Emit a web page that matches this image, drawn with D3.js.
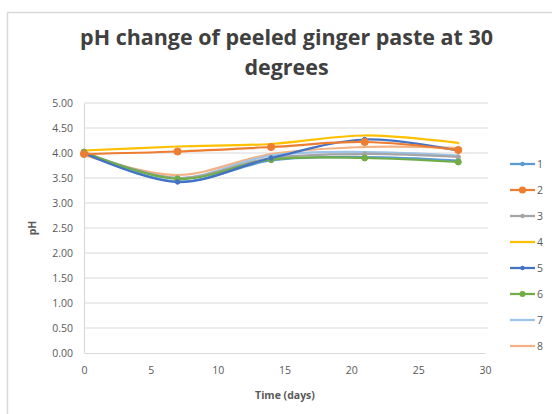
<!DOCTYPE html>
<html><head><meta charset="utf-8">
<script src="https://cdn.jsdelivr.net/npm/d3@7"></script>
<style>body{margin:0;background:#fff}svg{display:block}</style>
</head><body>
<svg id="c" width="552" height="414"></svg>
<script>
const days = [0, 7, 14, 21, 28];
const seriesNames = ["1","2","3","4","5","6","7","8"];
const s1 = [4.00, 3.43, 3.85, 3.92, 3.85];
const s2 = [3.98, 4.03, 4.12, 4.22, 4.06];
const s3 = [4.02, 3.50, 3.90, 3.98, 3.92];
const s4 = [4.05, 4.13, 4.18, 4.35, 4.20];
const s5 = [4.00, 3.42, 3.90, 4.27, 4.05];
const s6 = [4.02, 3.48, 3.87, 3.90, 3.82];
const s7 = [4.00, 3.50, 3.95, 4.02, 3.95];
const s8 = [3.96, 3.56, 3.98, 4.12, 4.10];
const seriesValues = [s1,s2,s3,s4,s5,s6,s7,s8];
const xTicks = [0,5,10,15,20,25,30];
const yTicks = [0,0.5,1,1.5,2,2.5,3,3.5,4,4.5,5];
const titleLines = ["pH change of peeled ginger paste at 30","degrees"];
const xTitle = "Time (days)";
const yTitle = "pH";

const colors = ["#5B9BD5","#ED7D31","#A5A5A5","#FFC000","#4472C4","#70AD47","#9DC3E6","#F4B183"];
const markerR = [2.2,3.6,2.2,0,2.2,3,0,0];

const svg = d3.select("#c");
svg.append("rect").attr("x",7.5).attr("y",12.5).attr("width",600).attr("height",500)
  .attr("fill","#fff").attr("stroke","#D9D9D9").attr("stroke-width",1.5);

const x = d3.scaleLinear().domain([0,30]).range([84,485]);
const y = d3.scaleLinear().domain([0,5]).range([353,103]);

// gridlines
svg.append("g").selectAll("line").data(yTicks.slice(1)).join("line")
  .attr("x1",x(0)).attr("x2",x(30)+3).attr("y1",d=>y(d)).attr("y2",d=>y(d))
  .attr("stroke","#D9D9D9").attr("stroke-width",1.2);

// axes
const yAxis = d3.axisLeft(y).tickValues(yTicks).tickFormat(d3.format(".2f")).tickSize(0).tickPadding(11);
const gy = svg.append("g").attr("transform",`translate(${x(0)},0)`).call(yAxis);
gy.select(".domain").attr("stroke","#D9D9D9").attr("stroke-width",1.2);
gy.selectAll("text").attr("fill","#595959").attr("font-family","Open Sans, sans-serif").attr("font-size",10.5);

const xAxis = d3.axisBottom(x).tickValues(xTicks).tickSize(0).tickPadding(14);
const gx = svg.append("g").attr("transform",`translate(0,${y(0)})`).call(xAxis);
gx.select(".domain").attr("stroke","#D9D9D9").attr("stroke-width",1.2);
gx.selectAll("text").attr("fill","#595959").attr("font-family","Open Sans, sans-serif").attr("font-size",10.5);

// lines
const line = d3.line().x((d,i)=>x(days[i])).y(d=>y(d)).curve(d3.curveCatmullRom.alpha(0.5));
const order = [7,6,0,2,5,4,1,3];
order.forEach(k=>{
  svg.append("path").datum(seriesValues[k]).attr("d",line)
    .attr("fill","none").attr("stroke",colors[k]).attr("stroke-width",2.25).attr("stroke-linecap","round");
});
order.forEach(k=>{
  if(markerR[k]>0){
    svg.append("g").selectAll("circle").data(seriesValues[k]).join("circle")
      .attr("cx",(d,i)=>x(days[i])).attr("cy",d=>y(d)).attr("r",markerR[k])
      .attr("fill",colors[k]).attr("stroke",colors[k]);
  }
});

// title
const title = svg.append("text").attr("font-family","Open Sans, sans-serif").attr("font-weight","bold")
  .attr("fill","#404040").attr("text-anchor","middle");
const t1 = title.append("tspan").attr("x",286.5).attr("y",45).text(titleLines[0]);
title.append("tspan").attr("x",286.5).attr("y",75).text(titleLines[1]);
title.attr("font-size",20);
const w = t1.node().getComputedTextLength();
title.attr("font-size", 20*413/w);

// axis titles
svg.append("text").attr("x",285).attr("y",399).attr("text-anchor","middle")
  .attr("font-family","Open Sans, sans-serif").attr("font-weight","bold").attr("font-size",10.5)
  .attr("fill","#595959").text(xTitle);
svg.append("text").attr("transform","translate(36,228) rotate(-90)").attr("text-anchor","middle")
  .attr("font-family","Open Sans, sans-serif").attr("font-weight","bold").attr("font-size",10.5)
  .attr("fill","#595959").text(yTitle);

// legend
const lg = svg.append("g");
seriesNames.forEach((n,i)=>{
  const yy = 164 + i*26;
  lg.append("line").attr("x1",510).attr("x2",535).attr("y1",yy).attr("y2",yy)
    .attr("stroke",colors[i]).attr("stroke-width",2.25);
  if(markerR[i]>0) lg.append("circle").attr("cx",522.5).attr("cy",yy).attr("r",markerR[i]).attr("fill",colors[i]);
  lg.append("text").attr("x",537).attr("y",yy+4).attr("font-family","Open Sans, sans-serif")
    .attr("font-size",10.5).attr("fill","#595959").text(n);
});
</script>
</body></html>
